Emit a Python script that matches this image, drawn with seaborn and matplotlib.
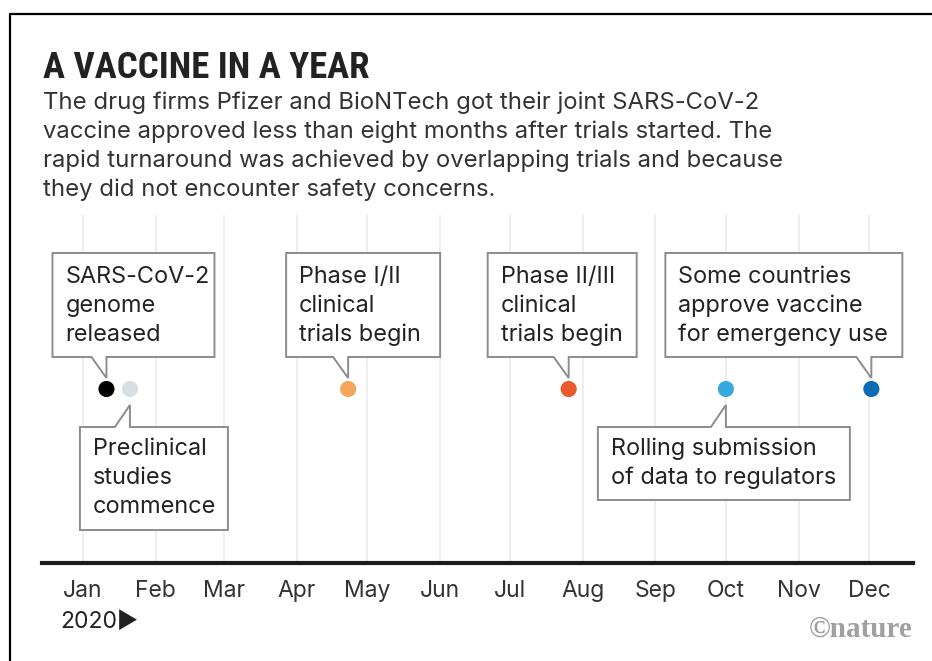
import numpy as np
import pandas as pd
import matplotlib
matplotlib.use("Agg")
import matplotlib.pyplot as plt
import matplotlib.dates as mdates
from matplotlib.patches import Polygon
from matplotlib.lines import Line2D
from matplotlib.transforms import IdentityTransform
from matplotlib import font_manager as fm
import seaborn as sns

# ---------------- data ----------------
title = "A VACCINE IN A YEAR"
subtitle_lines = [
    "The drug firms Pfizer and BioNTech got their joint SARS-CoV-2",
    "vaccine approved less than eight months after trials started. The",
    "rapid turnaround was achieved by overlapping trials and because",
    "they did not encounter safety concerns.",
]
events = [
    "SARS-CoV-2 genome released",
    "Preclinical studies commence",
    "Phase I/II clinical trials begin",
    "Phase II/III clinical trials begin",
    "Rolling submission of data to regulators",
    "Some countries approve vaccine for emergency use",
]
event_label_lines = [
    ["SARS-CoV-2", "genome", "released"],
    ["Preclinical", "studies", "commence"],
    ["Phase I/II", "clinical", "trials begin"],
    ["Phase II/III", "clinical", "trials begin"],
    ["Rolling submission", "of data to regulators"],
    ["Some countries", "approve vaccine", "for emergency use"],
]
event_dates = ["2020-01-11", "2020-01-21", "2020-04-23", "2020-07-26", "2020-10-01", "2020-12-02"]
event_colors = ["#000000", "#d9dee5", "#f4a65c", "#e95b2b", "#38a9e0", "#0b6cb3"]
month_labels = ["Jan", "Feb", "Mar", "Apr", "May", "Jun",
                "Jul", "Aug", "Sep", "Oct", "Nov", "Dec"]
year_label = "2020\u25B6"
credit = "\u00A9nature"

# ---------------- layout (pixels) ----------------
W, H = 932, 661
# callout boxes: (left offset, right offset from dot x, side, top, bottom)
box_layout = [
    (-54, 108, "above", 253, 357),
    (-50, 98, "below", 427, 530),
    (-62, 92, "above", 253, 357),
    (-81, 68, "above", 253, 357),
    (-128, 124, "below", 427, 500),
    (-206, 31, "above", 253, 357),
]

sns.set_style("white")
avail = {f.name for f in fm.fontManager.ttflist}
body_font = next((f for f in ["Inter", "Roboto", "Lato", "Open Sans"] if f in avail), "DejaVu Sans")
title_font = next((f for f in ["Roboto Condensed", "Liberation Sans Narrow", "Open Sans Condensed"] if f in avail), None)
title_stretch = "normal"
if title_font is None:
    title_font = "DejaVu Sans"
    if any(f.name == "DejaVu Sans" and f.stretch == "condensed" for f in fm.fontManager.ttflist):
        title_stretch = "condensed"
plt.rcParams["font.family"] = [body_font, "DejaVu Sans"]

df = pd.DataFrame({
    "event": events,
    "date": pd.to_datetime(event_dates),
    "level": [0.5] * len(events),
})

fig = plt.figure(figsize=(W / 100, H / 100), dpi=100)
fig.patch.set_facecolor("white")
ax = fig.add_axes([42 / W, 1 - 563 / H, (913 - 42) / W, (563 - 215) / H])

sns.scatterplot(data=df, x="date", y="level", hue="event", palette=event_colors,
                s=135, edgecolor="none", legend=False, ax=ax, zorder=3)

jan1 = mdates.date2num(pd.Timestamp("2020-01-01"))
px_per_day = 786 / 335
ax.set_xlim(jan1 - 41 / px_per_day, jan1 + 830 / px_per_day)
ax.set_ylim(0, 1)
month_starts = pd.date_range("2020-01-01", periods=12, freq="MS")
ax.set_xticks(mdates.date2num(month_starts))
ax.set_xticklabels(month_labels)
ax.set_yticks([])
ax.set_xlabel("")
ax.set_ylabel("")
ax.grid(axis="x", color="#ebebeb", lw=1.2)
ax.set_axisbelow(True)
for s in ["left", "top", "right"]:
    ax.spines[s].set_visible(False)
ax.spines["bottom"].set_linewidth(3)
ax.spines["bottom"].set_color("#1c1c1c")
ax.tick_params(axis="x", length=7.5, width=1, color="#b0b0b0", pad=4.5,
               labelsize=16.5, labelcolor="#333333")
ax.patch.set_alpha(0)

# border (left + top)
fig.add_artist(Line2D([10 / W, 10 / W], [0, 1 - 14 / H], color="black", lw=1.6,
                      transform=fig.transFigure))
fig.add_artist(Line2D([10 / W, 1], [1 - 14 / H, 1 - 14 / H], color="black", lw=1.6,
                      transform=fig.transFigure))

# title and subtitle
fig.text(43 / W, 1 - 78 / H, title, fontsize=26.5, fontweight="bold",
         family=[title_font, "DejaVu Sans"], fontstretch=title_stretch,
         color="#222222", va="baseline", ha="left")
for i, line in enumerate(subtitle_lines):
    fig.text(43 / W, 1 - (109 + 29 * i) / H, line, fontsize=17.2, color="#333333",
             va="baseline", ha="left")

# callouts
for (d, lines, (lo, ro, side, top, bot)) in zip(df["date"], event_label_lines, box_layout):
    dx, dy = ax.transData.transform((mdates.date2num(d), 0.5))
    vx = dx
    L, R = vx + lo, vx + ro
    if side == "above":
        tip = 378
        pts = [(L, top), (R, top), (R, bot), (vx, bot), (vx, tip), (vx - 15, bot), (L, bot)]
        base0 = top + 30
    else:
        tip = 405
        pts = [(L, top), (vx - 15, top), (vx, tip), (vx, top), (R, top), (R, bot), (L, bot)]
        base0 = top + 28
    pts_disp = [(x, H - y) for x, y in pts]
    poly = Polygon(pts_disp, closed=True, facecolor="white", edgecolor="#8c8c8c",
                   lw=1.4, joinstyle="miter", transform=IdentityTransform(), zorder=2)
    fig.add_artist(poly)
    for j, t in enumerate(lines):
        fig.text((L + 13) / W, 1 - (base0 + 29 * j) / H, t, fontsize=16.9,
                 color="#222222", va="baseline", ha="left", zorder=3)

# year label and credit
fig.text(60 / W, 1 - 628 / H, year_label, fontsize=16.5, color="#222222",
         va="baseline", ha="left", family=[body_font, "DejaVu Sans"])
fig.text(913 / W, 1 - 637 / H, credit, fontsize=21, fontweight="bold",
         family=["Liberation Serif", "DejaVu Serif"], color="#a0a0a0",
         va="baseline", ha="right")

fig.savefig("out.png", dpi=100, facecolor="white")
